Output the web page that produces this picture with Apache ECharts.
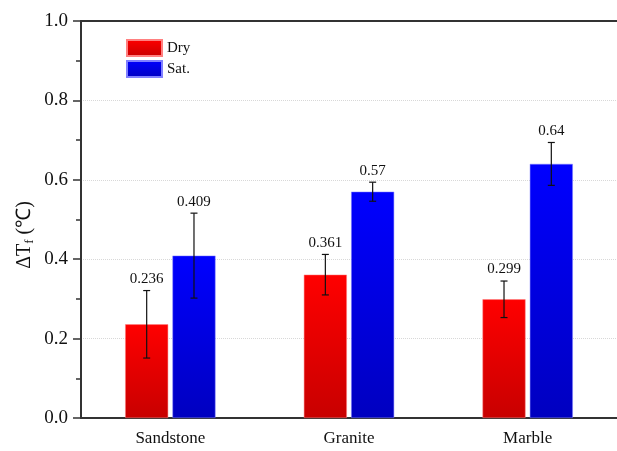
<!DOCTYPE html>
<html><head><meta charset="utf-8">
<script src="https://cdn.jsdelivr.net/npm/echarts@6/dist/echarts.min.js"></script>
<style>html,body{margin:0;padding:0;background:#fff}#c{width:617px;height:451px}</style>
</head><body><div id="c"></div>
<script>
const categories = ['Sandstone', 'Granite', 'Marble'];
const dryValues = [0.236, 0.361, 0.299];
const satValues = [0.409, 0.57, 0.64];
const dryErrors = [0.085, 0.051, 0.046];
const satErrors = [0.107, 0.024, 0.054];
const yTicks = [0, 0.2, 0.4, 0.6, 0.8, 1.0];

const FONT = '"Liberation Serif", "Times New Roman", serif';
const BAR_W = 43;
const GAP = 0.1;

function grad(top, bottom) {
  return new echarts.graphic.LinearGradient(0, 0, 0, 1, [
    { offset: 0, color: top }, { offset: 1, color: bottom }
  ]);
}

function errSeries(name, values, errs, sign) {
  return {
    type: 'custom', name: name + '_err', z: 10, silent: true,
    data: values.map((v, i) => [i, v, errs[i]]),
    renderItem: function (params, api) {
      const i = api.value(0), v = api.value(1), e = api.value(2);
      const c = api.coord([i, v]);
      const hi = api.coord([i, v + e]);
      const lo = api.coord([i, v - e]);
      const x = c[0] + sign * (BAR_W * (1 + GAP)) / 2;
      const cap = 3.5;
      const st = { stroke: '#111', lineWidth: 1.2 };
      return {
        type: 'group', children: [
          { type: 'line', shape: { x1: x, y1: hi[1], x2: x, y2: lo[1] }, style: st },
          { type: 'line', shape: { x1: x - cap, y1: hi[1], x2: x + cap, y2: hi[1] }, style: st },
          { type: 'line', shape: { x1: x - cap, y1: lo[1], x2: x + cap, y2: lo[1] }, style: st },
          { type: 'text', x: x, y: hi[1] - 4, style: { text: String(v), fill: '#111', font: '15px ' + FONT, textAlign: 'center', textVerticalAlign: 'bottom' } }
        ]
      };
    }
  };
}

const chart = echarts.init(document.getElementById('c'));
chart.setOption({
  backgroundColor: '#fff',
  animation: false,
  grid: { left: 81, right: -3, top: 21, bottom: 33, containLabel: false },
  legend: {
    orient: 'vertical', left: 126, top: 39, padding: 0, itemWidth: 35, itemHeight: 16, itemGap: 3,
    textStyle: { fontFamily: FONT, fontSize: 15, color: '#111' },
    data: ['Dry', 'Sat.'], icon: 'rect'
  },
  xAxis: [
    {
      type: 'category', data: categories, position: 'bottom',
      axisLine: { lineStyle: { color: '#333', width: 2 } },
      axisTick: { alignWithLabel: true, length: 8, lineStyle: { color: '#333', width: 1.5 } },
      axisLabel: { fontFamily: FONT, fontSize: 17, color: '#111', margin: 12 },
      splitLine: { show: false }
    },
    {
      type: 'category', data: categories, position: 'bottom',
      axisLine: { show: false },
      axisTick: { length: 4, lineStyle: { color: '#333', width: 1.5 } },
      axisLabel: { show: false }, splitLine: { show: false }
    },
    {
      type: 'category', data: categories, position: 'top',
      axisLine: { lineStyle: { color: '#333', width: 2 } },
      axisTick: { show: false }, axisLabel: { show: false }, splitLine: { show: false }
    }
  ],
  yAxis: {
    type: 'value', min: yTicks[0], max: yTicks[yTicks.length - 1], interval: 0.2,
    axisLine: { show: true, lineStyle: { color: '#333', width: 2 } },
    axisTick: { show: true, length: 8, lineStyle: { color: '#333', width: 1.5 } },
    minorTick: { show: true, splitNumber: 2, length: 5, lineStyle: { color: '#333', width: 1.5 } },
    axisLabel: { fontFamily: FONT, fontSize: 19, color: '#111', margin: 13, formatter: v => v.toFixed(1) },
    splitLine: { show: true, lineStyle: { color: '#d8d8d8', type: 'dotted', width: 1 } }
  },
  graphic: [{
    type: 'text', x: 25, y: 235, rotation: Math.PI / 2,
    style: {
      text: '{a|ΔT}{s|f}{a| (℃)}', textAlign: 'center', textVerticalAlign: 'middle',
      rich: {
        a: { fontFamily: FONT, fontSize: 20, fill: '#111' },
        s: { fontFamily: FONT, fontSize: 13, fill: '#111', padding: [10, 0, 0, 0] }
      }
    }
  }],
  series: [
    {
      name: 'Dry', type: 'bar', data: dryValues, barWidth: BAR_W, barGap: '10%',
      itemStyle: { color: grad('#ff0000', '#c80000'), borderColor: '#ff8080', borderWidth: 0.5 }
    },
    {
      name: 'Sat.', type: 'bar', data: satValues, barWidth: BAR_W,
      itemStyle: { color: grad('#0000ff', '#0000c0'), borderColor: '#8080ff', borderWidth: 0.5 }
    },
    errSeries('Dry', dryValues, dryErrors, -1),
    errSeries('Sat.', satValues, satErrors, 1)
  ]
});
</script></body></html>
